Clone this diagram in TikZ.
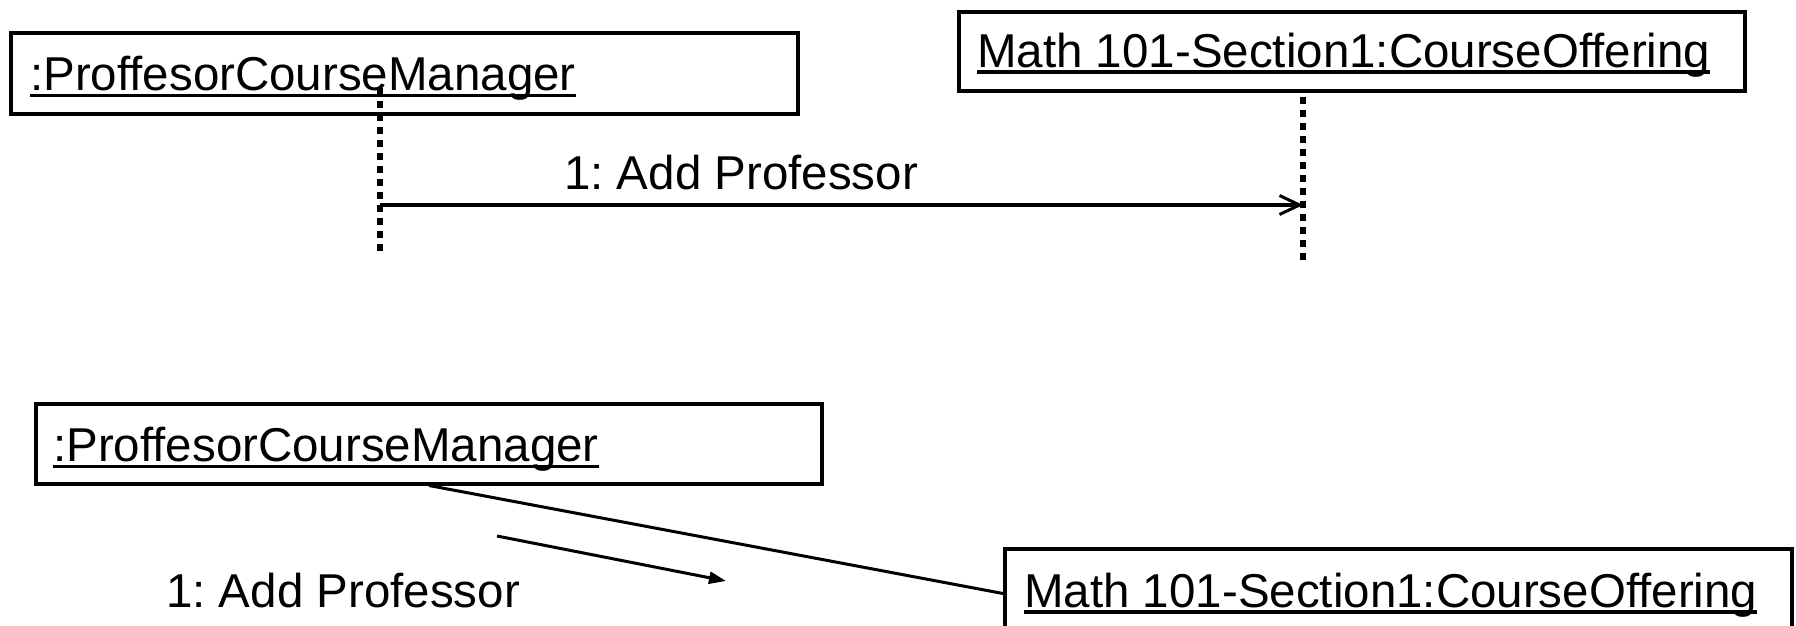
\documentclass[tikz,border=0pt]{standalone}
\usepackage{fontspec}
\setmainfont{Liberation Sans}
\frenchspacing
\usetikzlibrary{arrows.meta}
\newcommand{\ulname}[1]{\setbox0\hbox{#1}\rlap{\vrule width\wd0 height -3pt depth 6.5pt}\box0}
\tikzset{
  objbox/.style={draw, line width=4pt, rectangle, inner sep=0pt, anchor=north west},
  lbl/.style={anchor=base west, inner sep=0pt, font=\fontsize{47.5}{57}\selectfont},
  lifeline/.style={line width=6.5pt, dash pattern=on 6.5pt off 6.5pt},
  msg/.style={line width=3.5pt, -{Straight Barb[length=20pt,width=19pt,line width=3pt]}},
  link/.style={line width=3pt},
  dirarrow/.style={line width=3pt, -{Triangle[length=17pt,width=12pt]}}
}
\begin{document}
\begin{tikzpicture}[x=1pt,y=-1pt]
\useasboundingbox (0,0) rectangle (1796,626);
\clip (0,0) rectangle (1796,626);
% top: sequence diagram
\node[objbox, minimum width=787pt, minimum height=80pt] (b1) at (9,31.5) {};
\node[lbl] (t1) at (30,91) {\ulname{:ProffesorCourseManager}};
\node[objbox, minimum width=786pt, minimum height=79pt] (b2) at (957,10) {};
\node[lbl] (t2) at (977,67) {\ulname{Math 101-Section1:CourseOffering}};
\coordinate (l1a) at (380,88);
\coordinate (l1b) at (380,254);
\coordinate (l2a) at (1303,97);
\coordinate (l2b) at (1303,264);
\coordinate (m1s) at (380,205);
\coordinate (m1e) at (1303,205);
\draw[lifeline] (l1a) -- (l1b);
\draw[lifeline] (l2a) -- (l2b);
\draw[msg] (m1s) -- (m1e);
\node[lbl] (m1) at (564,189) {1: Add Professor};
% bottom: collaboration diagram
\node[objbox, minimum width=786pt, minimum height=80pt] (b3) at (34,401.5) {};
\node[lbl] (t3) at (53,461.5) {\ulname{:ProffesorCourseManager}};
\node[objbox, minimum width=787pt, minimum height=89pt] (b4) at (1003,547) {};
\node[lbl] (t4) at (1024,607) {\ulname{Math 101-Section1:CourseOffering}};
\draw[link] (b3.south) -- (b4.west);
\coordinate (d1) at (497,536);
\coordinate (d2) at (726,581);
\draw[dirarrow] (d1) -- (d2);
\node[lbl] (m2) at (166,607) {1: Add Professor};
\end{tikzpicture}
\end{document}
